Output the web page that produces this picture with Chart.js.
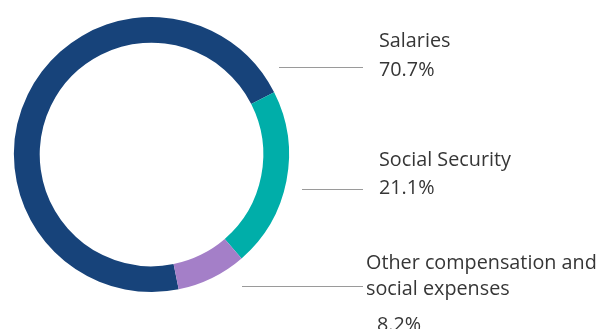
<!DOCTYPE html>
<html>
<head>
<meta charset="utf-8">
<script src="https://cdn.jsdelivr.net/npm/chart.js@4/dist/chart.umd.min.js"></script>
<style>
  html, body { margin: 0; padding: 0; background: #fff; }
  #wrap { width: 601px; height: 329px; position: relative; overflow: hidden; }
</style>
</head>
<body>
<div id="wrap"><canvas id="myChart" width="601" height="329"></canvas></div>
<script>
'use strict';

// DATA
var categories = ['Salaries', 'Social Security', 'Other compensation and\nsocial expenses'];
var shares = [70.7, 21.1, 8.2];
var sliceColors = ['#17437a', '#00aea9', '#a47fc8'];

// LABEL LAYOUT (text left x, first baseline, line start/end, line y)
var labelPos = [
  { x: 379, y: 47, lineX0: 279, lineX1: 363, lineY: 67.5, gap: 29 },
  { x: 379, y: 166, lineX0: 302, lineX1: 363, lineY: 189.5, gap: 28 },
  { x: 366, y: 269, lineX0: 242, lineX1: 363, lineY: 286.5, gap: 26, valueX: 377, valueY: 330.5 }
];

// side labels + leader lines
var sideLabels = {
  id: 'sideLabels',
  afterDraw: function(chart) {
    var ctx = chart.ctx;
    ctx.save();
    ctx.font = '19.8px "Open Sans", "Noto Sans", sans-serif';
    ctx.fillStyle = '#363636';
    ctx.textBaseline = 'alphabetic';
    ctx.textAlign = 'left';
    categories.forEach(function(cat, i) {
      var p = labelPos[i];
      var lines = cat.split('\n');
      lines.forEach(function(l, j) {
        ctx.fillText(l, p.x, p.y + j * p.gap);
      });
      var vx = p.valueX || p.x;
      var vy = p.valueY || (p.y + lines.length * p.gap);
      ctx.fillText(shares[i].toFixed(1) + '%', vx, vy);

      ctx.beginPath();
      ctx.strokeStyle = '#9a9a9a';
      ctx.lineWidth = 1;
      ctx.moveTo(p.lineX0, p.lineY);
      ctx.lineTo(p.lineX1, p.lineY);
      ctx.stroke();
    });
    ctx.restore();
  }
};

var ctx = document.getElementById('myChart').getContext('2d');

var chart = new Chart(ctx, {
  type: 'doughnut',
  data: {
    labels: categories,
    datasets: [{
      data: shares,
      backgroundColor: sliceColors,
      borderWidth: 0
    }]
  },
  options: {
    responsive: false,
    animation: false,
    rotation: 168.6,
    cutout: '81.3%',
    layout: { padding: { left: 14, top: 17, right: 312, bottom: 37 } },
    plugins: {
      legend: { display: false },
      tooltip: { enabled: false }
    }
  },
  plugins: [sideLabels]
});
</script>
</body>
</html>
